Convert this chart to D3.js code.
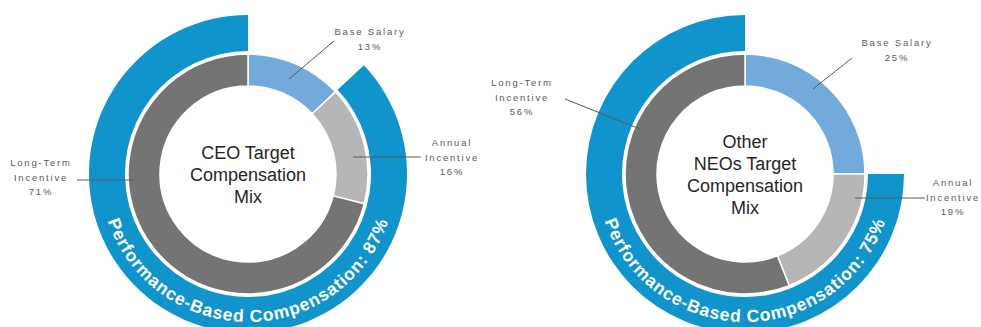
<!DOCTYPE html>
<html>
<head>
<meta charset="utf-8">
<script src="https://cdn.jsdelivr.net/npm/d3@7"></script>
<style>
  html, body { margin: 0; padding: 0; background: #ffffff; }
  svg { display: block; }
</style>
</head>
<body>
<svg id="chart" width="981" height="327"></svg>
<script>
// ---- data ----
const categories = ["Base Salary", "Annual Incentive", "Long-Term Incentive"];
const categoryLabelLines = [["Base Salary"], ["Annual", "Incentive"], ["Long-Term", "Incentive"]];
const ceoValues = [13, 16, 71];
const neoValues = [25, 19, 56];
const chartTitles = [["CEO Target", "Compensation", "Mix"], ["Other", "NEOs Target", "Compensation", "Mix"]];
const performanceCaption = "Performance-Based Compensation";
const performanceCategories = ["Annual Incentive", "Long-Term Incentive"];

// ---- layout / style ----
const W = 981, H = 327;
const colors = { "Base Salary": "#72aadb", "Annual Incentive": "#b6b6b6", "Long-Term Incentive": "#747474" };
const blue = "#1193cb";
const rIn = 88, rOut = 120, rBlueIn = 123, rBlueOut = 159, rText = 148;

const charts = [
  { values: ceoValues, title: chartTitles[0], cx: 248, cy: 174,
    labels: [
      { x: 370, y: 35, line: [334, 41, 289, 79], under: false },
      { x: 452, y: 146, line: [353, 157, 421, 157], under: false },
      { x: 41, y: 166, line: [77, 180, 134, 180], under: true }
    ] },
  { values: neoValues, title: chartTitles[1], cx: 745, cy: 174,
    labels: [
      { x: 897, y: 46, line: [852, 58, 813, 89], under: false },
      { x: 953, y: 186, line: [855, 198, 925, 198], under: false },
      { x: 522, y: 86, line: [565, 99, 640, 129], under: true }
    ] }
];

const svg = d3.select("#chart");
const angle = d3.scaleLinear().domain([0, 100]).range([0, 2 * Math.PI]);

charts.forEach((c, ci) => {
  const g = svg.append("g").attr("transform", `translate(${c.cx},${c.cy})`);
  const data = categories.map((k, i) => ({ key: k, value: c.values[i] }));
  const pie = d3.pie().sort(null).value(d => d.value).startAngle(0).endAngle(2 * Math.PI);
  const arcs = pie(data);
  const arc = d3.arc().innerRadius(rIn).outerRadius(rOut);

  g.selectAll("path.seg").data(arcs).join("path")
    .attr("class", "seg")
    .attr("d", arc)
    .attr("fill", d => colors[d.data.key])
    .attr("stroke", "#ffffff")
    .attr("stroke-width", 1.5);

  const lineLayer = (under) => {
    c.labels.forEach((l, i) => {
      if (l.under !== under) return;
      svg.append("line")
        .attr("x1", l.line[0]).attr("y1", l.line[1])
        .attr("x2", l.line[2]).attr("y2", l.line[3])
        .attr("stroke", "#5a5a5a").attr("stroke-width", 1);
    });
  };
  lineLayer(true);

  // performance-based outer ring
  const perfTotal = d3.sum(data.filter(d => performanceCategories.includes(d.key)), d => d.value);
  const baseVal = c.values[0];
  const blueArc = d3.arc().innerRadius(rBlueIn).outerRadius(rBlueOut)
    .startAngle(angle(baseVal)).endAngle(angle(100));
  g.append("path").attr("d", blueArc()).attr("fill", blue);

  lineLayer(false);

  // curved caption
  const pid = "capPath" + ci;
  g.append("path")
    .attr("id", pid)
    .attr("d", `M ${-rText} 0 A ${rText} ${rText} 0 0 0 ${rText} 0`)
    .attr("fill", "none");
  g.append("text")
    .attr("font-family", "'Liberation Sans', Arial, sans-serif")
    .attr("font-size", 17.5)
    .attr("font-weight", "bold")
    .attr("letter-spacing", 0.9)
    .attr("fill", "#ffffff")
    .append("textPath")
    .attr("href", "#" + pid)
    .attr("startOffset", "50%")
    .attr("text-anchor", "middle")
    .text(`${performanceCaption}: ${perfTotal}%`);

  // center title
  const n = c.title.length;
  g.append("text")
    .attr("font-family", "'Liberation Sans', Arial, sans-serif")
    .attr("font-size", 18)
    .attr("fill", "#262626")
    .attr("text-anchor", "middle")
    .selectAll("tspan").data(c.title).join("tspan")
    .attr("x", 0)
    .attr("y", (d, i) => 7 + (i - (n - 1) / 2) * 22)
    .text(d => d);

  // category labels
  c.labels.forEach((l, i) => {
    const lines = categoryLabelLines[i].concat([c.values[i] + "%"]);
    svg.append("text")
      .attr("font-family", "'Liberation Sans', Arial, sans-serif")
      .attr("font-size", 9.5)
      .attr("letter-spacing", 1.8)
      .attr("fill", "#595959")
      .attr("text-anchor", "middle")
      .selectAll("tspan").data(lines).join("tspan")
      .attr("x", l.x)
      .attr("y", (d, j) => l.y + j * 14.5)
      .text(d => d);
  });
});
</script>
</body>
</html>
